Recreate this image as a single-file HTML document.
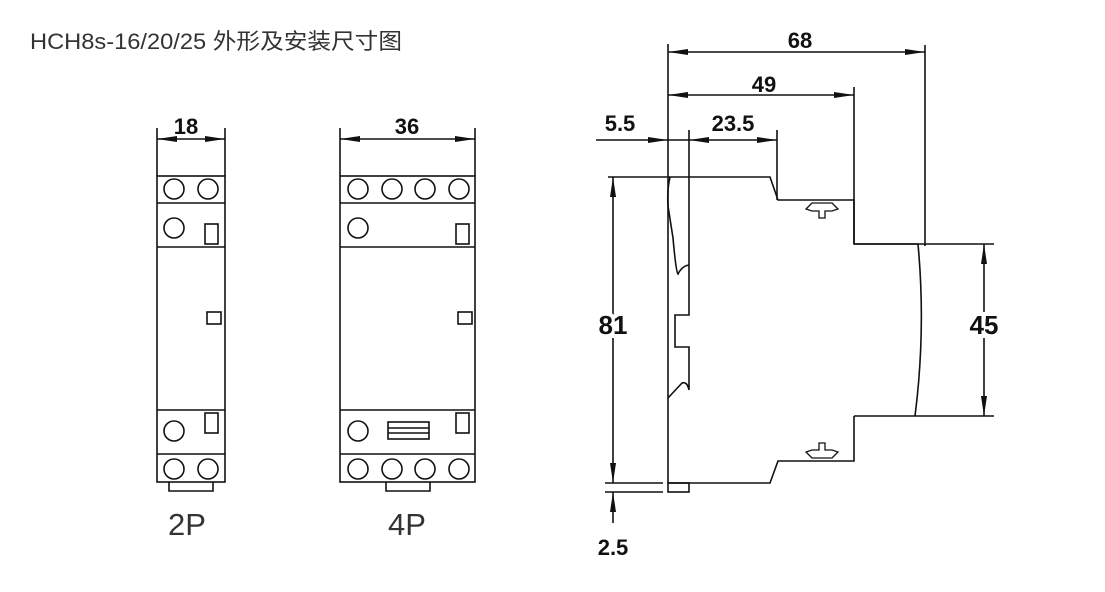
<!DOCTYPE html>
<html><head><meta charset="utf-8"><style>
html,body{margin:0;padding:0;background:#fff;}
svg{display:block;}
</style></head><body>
<svg width="1105" height="592" viewBox="0 0 1105 592" xmlns="http://www.w3.org/2000/svg">
<defs>
<marker id="b" viewBox="0 0 20 6" refX="20" refY="3" markerWidth="20" markerHeight="6" markerUnits="userSpaceOnUse" orient="auto-start-reverse"><path d="M0,0 L20,3 L0,6 Z" fill="#111"/></marker>
</defs>
<text x="30" y="49" font-family="Liberation Sans, 'Noto Sans CJK SC', sans-serif" font-size="22" fill="#333" textLength="372" lengthAdjust="spacingAndGlyphs">HCH8s-16/20/25 外形及安装尺寸图</text>

<g stroke="#111" stroke-width="1.6" fill="none">
<!-- 2P -->
<line x1="157" y1="128" x2="157" y2="176"/><line x1="225" y1="128" x2="225" y2="176"/>
<line x1="157" y1="139" x2="225" y2="139" marker-start="url(#b)" marker-end="url(#b)"/>
<rect x="157" y="176" width="68" height="306"/>
<line x1="157" y1="203" x2="225" y2="203"/><line x1="157" y1="247" x2="225" y2="247"/>
<line x1="157" y1="410" x2="225" y2="410"/><line x1="157" y1="454" x2="225" y2="454"/>
<circle cx="174" cy="189" r="10"/><circle cx="208" cy="189" r="10"/>
<circle cx="174" cy="228" r="10"/><rect x="205" y="224" width="13" height="20"/>
<rect x="207" y="312" width="14" height="12"/>
<circle cx="174" cy="431" r="10"/><rect x="205" y="413" width="13" height="20"/>
<circle cx="174" cy="469" r="10"/><circle cx="208" cy="469" r="10"/>
<path d="M169,482 V491 H213 V482"/>
<!-- 4P -->
<line x1="340" y1="128" x2="340" y2="176"/><line x1="475" y1="128" x2="475" y2="176"/>
<line x1="340" y1="139" x2="475" y2="139" marker-start="url(#b)" marker-end="url(#b)"/>
<rect x="340" y="176" width="135" height="306"/>
<line x1="340" y1="203" x2="475" y2="203"/><line x1="340" y1="247" x2="475" y2="247"/>
<line x1="340" y1="410" x2="475" y2="410"/><line x1="340" y1="454" x2="475" y2="454"/>
<circle cx="358" cy="189" r="10"/><circle cx="392" cy="189" r="10"/><circle cx="425" cy="189" r="10"/><circle cx="459" cy="189" r="10"/>
<circle cx="358" cy="228" r="10"/><rect x="456" y="224" width="13" height="20"/>
<rect x="458" y="312" width="14" height="12"/>
<circle cx="358" cy="431" r="10"/><rect x="456" y="413" width="13" height="20"/>
<rect x="388" y="422" width="41" height="17"/><line x1="388" y1="428" x2="429" y2="428"/><line x1="388" y1="433" x2="429" y2="433"/>
<circle cx="358" cy="469" r="10"/><circle cx="392" cy="469" r="10"/><circle cx="425" cy="469" r="10"/><circle cx="459" cy="469" r="10"/>
<path d="M386,482 V491 H430 V482"/>

<!-- side view dims -->
<line x1="668" y1="44" x2="668" y2="483"/>
<line x1="925" y1="45" x2="925" y2="246"/>
<line x1="668" y1="52" x2="925" y2="52" marker-start="url(#b)" marker-end="url(#b)"/>
<line x1="854" y1="87" x2="854" y2="244"/>
<line x1="668" y1="95" x2="854" y2="95" marker-start="url(#b)" marker-end="url(#b)"/>
<line x1="689" y1="130" x2="689" y2="265"/>
<line x1="777" y1="130" x2="777" y2="200"/>
<line x1="596" y1="140" x2="668" y2="140" marker-end="url(#b)"/>
<line x1="689" y1="140" x2="777" y2="140" marker-start="url(#b)" marker-end="url(#b)"/>
<line x1="668" y1="140" x2="689" y2="140"/>
<!-- body -->
<path d="M608,177 H770 L778,200 H854 V244 H918 Q926,330 915,416"/>
<line x1="854" y1="244" x2="994" y2="244"/>
<line x1="854" y1="416" x2="994" y2="416"/>
<line x1="984" y1="244" x2="984" y2="416" marker-start="url(#b)" marker-end="url(#b)"/>
<path d="M854,416 V461 H778 L770,483 H668"/>
<rect x="668" y="483" width="21" height="9"/>
<line x1="605" y1="483" x2="663" y2="483"/><line x1="605" y1="492" x2="663" y2="492"/>
<line x1="613" y1="177" x2="613" y2="483" marker-start="url(#b)" marker-end="url(#b)"/>
<line x1="613" y1="523" x2="613" y2="492" marker-end="url(#b)"/>
<!-- left profile -->
<path d="M670,177 Q667,190 668,206 L673,238 Q676,272 678,274 Q682,266 689,265"/>
<path d="M689,265 V315 H675 V347 H689 V390 Q687,381 682,383 L668,398"/>
<!-- clips -->
<path d="M806,209 L812,203 H832 L838,209 L832,211 H825 V218 H819 V211 H812 Z" stroke-width="1.3"/>
<path d="M806,452 L812,458 H832 L838,452 L832,450 H825 V443 H819 V450 H812 Z" stroke-width="1.3"/>
</g>
<g font-family="Liberation Sans, sans-serif" font-size="22" fill="#111" text-anchor="middle" font-weight="bold">
<text x="186" y="134">18</text>
<text x="407" y="134">36</text>
<text x="800" y="48">68</text>
<text x="764" y="92">49</text>
<text x="620" y="131">5.5</text>
<text x="733" y="131">23.5</text>
<text x="613" y="334" font-size="26" fill="#fff" stroke="#fff" stroke-width="8">81</text>
<text x="613" y="334" font-size="26">81</text>
<text x="984" y="334" font-size="26" fill="#fff" stroke="#fff" stroke-width="8">45</text>
<text x="984" y="334" font-size="26">45</text>
<text x="613" y="555">2.5</text>
</g>
<g font-family="Liberation Sans, sans-serif" font-size="31" fill="#333" text-anchor="middle">
<text x="187" y="535">2P</text>
<text x="407" y="535">4P</text>
</g>
</svg>
</body></html>
